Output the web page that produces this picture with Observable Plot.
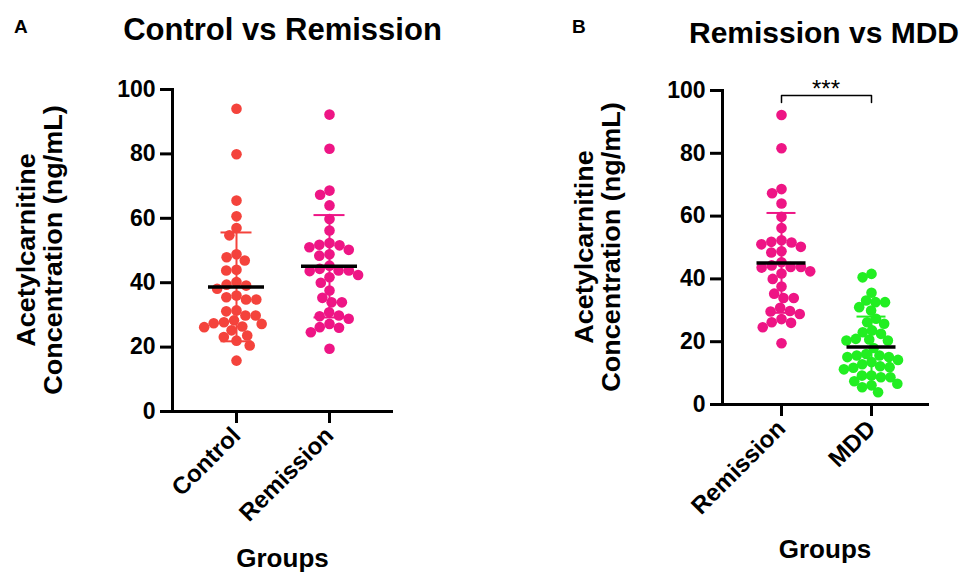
<!DOCTYPE html>
<html><head><meta charset="utf-8">
<script src="https://cdn.jsdelivr.net/npm/d3@7"></script>
<script src="https://cdn.jsdelivr.net/npm/@observablehq/plot@0.6"></script>
<style>
body{margin:0;background:#fff;}
#root{position:relative;width:963px;height:572px;overflow:hidden;font-family:"Liberation Sans",Arial,sans-serif;font-weight:bold;color:#000;background:#fff;}
.t{position:absolute;white-space:nowrap;line-height:1;}
.c{transform:translateX(-50%);}
.yl{position:absolute;text-align:center;font-size:25px;line-height:27px;white-space:nowrap;transform:rotate(-90deg) scaleX(1.08);}
.panel{position:absolute;top:0;}
</style></head>
<body><div id="root"></div>
<script>
// ---- data ----
const controlValues = [94.0, 79.9, 65.5, 60.6, 57.0, 54.7, 47.9, 48.8, 46.9, 44.0, 43.8, 40.2, 39.4, 38.1, 39.1, 35.5, 36.0, 34.8, 34.8, 31.4, 31.1, 29.8, 29.8, 27.2, 28.3, 27.4, 27.7, 26.2, 26.4, 25.2, 23.6, 23.1, 22.0, 20.5, 15.8];
const remissionValues = [92.2, 81.6, 68.6, 67.3, 64.0, 59.8, 56.2, 51.0, 50.2, 51.6, 52.3, 51.8, 48.8, 48.4, 45.3, 43.8, 43.8, 43.6, 44.3, 41.7, 42.4, 40.0, 37.6, 33.9, 33.9, 35.3, 30.8, 29.6, 28.8, 29.8, 27.2, 26.0, 26.2, 24.6, 19.5];
const mddValues = [41.6, 40.5, 35.6, 33.1, 32.6, 32.6, 31.0, 29.9, 27.3, 26.2, 25.7, 23.0, 23.6, 22.5, 20.9, 20.4, 20.7, 20.4, 18.0, 15.1, 16.1, 15.1, 15.6, 15.6, 13.5, 11.9, 11.7, 12.2, 12.8, 11.2, 8.7, 9.2, 9.2, 8.7, 6.1, 5.5, 3.9, 6.6, 14.2, 7.4];

const statGroups = ["Control", "Remission", "MDD"];
const statMeans = [38.7, 45.1, 18.3];
const statSDs = [16.9, 15.9, 9.7];
const groupColors = ["#F4433C", "#EE1585", "#22EE22"];

const panelAGroups = ["Control", "Remission"];
const panelBGroups = ["Remission", "MDD"];
const yTicks = [0, 20, 40, 60, 80, 100];

const bracketGroups = ["Remission", "Remission", "MDD", "MDD"];
const bracketValues = [96.2, 98.4, 98.4, 96.2];
const sigLabel = "***";
const sigValue = 100.4;

const titleA = "Control vs Remission";
const titleB = "Remission vs MDD";
const yLabelLines = ["Acetylcarnitine", "Concentration (ng/mL)"];
const xLabel = "Groups";

// ---- tables ----
const valuesByGroup = {Control: controlValues, Remission: remissionValues, MDD: mddValues};
function rowsFor(groups) {
  return groups.flatMap(g => valuesByGroup[g].map(v => ({group: g, value: v})));
}
function statsFor(groups) {
  return groups.map(g => {
    const i = statGroups.indexOf(g);
    return {group: g, mean: statMeans[i], sd: statSDs[i]};
  });
}

// beeswarm layout computed from the library's scales
const DOT_R = 5.3;
function swarm(options, overlap) {
  return Plot.initializer(options, (data, facets, channels, scales) => {
    const X = channels.x.value, Y = channels.y.value;
    const sx = scales.x, sy = scales.y;
    const n = X.length;
    const PX = new Float64Array(n), PY = new Float64Array(n);
    for (const I of facets) {
      const byGroup = d3.group(I, i => X[i]);
      for (const [g, idx] of byGroup) {
        const d = 2 * DOT_R * (overlap[g] ?? 0.97);
        const cx = sx(g);
        const order = Array.from(idx).sort((a, b) => sy(Y[a]) - sy(Y[b]));
        const placed = [];
        for (const i of order) {
          const y = sy(Y[i]);
          const cands = [0];
          for (const p of placed) {
            const dy = y - p.y;
            if (Math.abs(dy) < d) {
              const dx = Math.sqrt(d * d - dy * dy);
              cands.push(p.x - dx, p.x + dx);
            }
          }
          cands.sort((a, b) => Math.abs(a) - Math.abs(b));
          let best = 0;
          for (const c of cands) {
            let ok = true;
            for (const p of placed) {
              if ((c - p.x) ** 2 + (y - p.y) ** 2 < d * d - 0.01) { ok = false; break; }
            }
            if (ok) { best = c; break; }
          }
          placed.push({x: best, y});
          PX[i] = cx + best;
          PY[i] = y;
        }
      }
    }
    return {data, facets, channels: {x: {value: PX}, y: {value: PY}}};
  });
}

function makePanel(groups, cfg) {
  const rows = rowsFor(groups);
  const stats = statsFor(groups);
  const colorRange = groups.map(g => groupColors[statGroups.indexOf(g)]);
  const marks = [
    Plot.ruleY([0], {strokeWidth: 3}),
    Plot.frame({anchor: "left", strokeWidth: 3}),
    Plot.axisY({ticks: yTicks, tickSize: 12, tickPadding: 5, strokeWidth: 3, fontSize: 23, fontWeight: "bold", label: null}),
    Plot.axisX({tickSize: 12, tickPadding: 8, strokeWidth: 3, tickRotate: -45, fontSize: 24, fontWeight: "bold", label: null}),
    Plot.dot(rows, swarm({x: "group", y: "value", fill: "group", r: DOT_R}, {MDD: 0.9})),
    Plot.ruleX(stats, {x: "group", y1: d => d.mean - d.sd, y2: d => d.mean + d.sd, stroke: "group", strokeWidth: 2}),
    Plot.tickY(stats, {x: "group", y: d => d.mean + d.sd, stroke: "group", strokeWidth: 2, insetLeft: cfg.capInset, insetRight: cfg.capInset}),
    Plot.tickY(stats, {x: "group", y: d => d.mean - d.sd, stroke: "group", strokeWidth: 2, insetLeft: cfg.capInset, insetRight: cfg.capInset}),
    Plot.tickY(stats, {x: "group", y: "mean", stroke: "black", strokeWidth: 3.5, insetLeft: cfg.meanInset, insetRight: cfg.meanInset})
  ];
  if (cfg.bracket) {
    const br = bracketGroups.map((g, i) => ({group: g, value: bracketValues[i]}));
    marks.push(Plot.line(br, {x: "group", y: "value", stroke: "black", strokeWidth: 1.5}));
    marks.push(Plot.text([sigLabel], {text: d => d, y: sigValue, frameAnchor: "middle", lineAnchor: "middle", fontSize: 24, fontWeight: "normal"}));
  }
  return Plot.plot({
    width: cfg.width, height: 572,
    marginLeft: cfg.marginLeft, marginRight: cfg.marginRight,
    marginTop: cfg.marginTop, marginBottom: cfg.marginBottom,
    x: {type: "band", domain: groups, paddingInner: 0.2, paddingOuter: cfg.paddingOuter, label: null},
    y: {domain: [0, 100], label: null},
    color: {domain: groups, range: colorRange},
    style: {fontFamily: "'Liberation Sans', Arial, sans-serif", fontSize: "22px", fontWeight: "bold", color: "#000", background: "transparent", overflow: "visible"},
    marks
  });
}

const root = document.getElementById("root");
const pa = makePanel(panelAGroups, {width: 480, marginLeft: 172, marginRight: 87, marginTop: 89, marginBottom: 161, paddingOuter: 0.288, capInset: 21.5, meanInset: 9});
pa.classList.add("panel"); pa.style.left = "0px";
root.appendChild(pa);
const pb = makePanel(panelBGroups, {width: 480, marginLeft: 239, marginRight: 34, marginTop: 90, marginBottom: 168, paddingOuter: 0.2375, capInset: 21.5, meanInset: 11.5, bracket: true});
pb.classList.add("panel"); pb.style.left = "483px";
root.appendChild(pb);

function addText(txt, left, top, size, center) {
  const el = document.createElement("div");
  el.className = "t" + (center ? " c" : "");
  el.textContent = txt;
  el.style.left = left + "px"; el.style.top = top + "px"; el.style.fontSize = size + "px";
  root.appendChild(el);
}
function addYLabel(cx, cy) {
  const el = document.createElement("div");
  el.className = "yl";
  const w = 340;
  el.style.width = w + "px"; el.style.height = "54px";
  el.style.left = (cx - w / 2) + "px"; el.style.top = (cy - 27) + "px";
  el.innerHTML = yLabelLines.map(s => `<div>${s}</div>`).join("");
  root.appendChild(el);
}
// baseline ≈ top + 0.8465*size
addText("A", 14, 33.5 - 0.8465 * 19, 19, false);
addText("B", 572, 33.5 - 0.8465 * 19, 19, false);
addText(titleA, 282.5, 40 - 0.8465 * 31, 31, true);
addText(titleB, 824, 43 - 0.8465 * 30, 30, true);
addText(xLabel, 282.5, 567 - 0.8465 * 26, 26, true);
addText(xLabel, 825, 558 - 0.8465 * 26, 26, true);
addYLabel(39.8, 250);
addYLabel(597.8, 247);
</script>
</body></html>
